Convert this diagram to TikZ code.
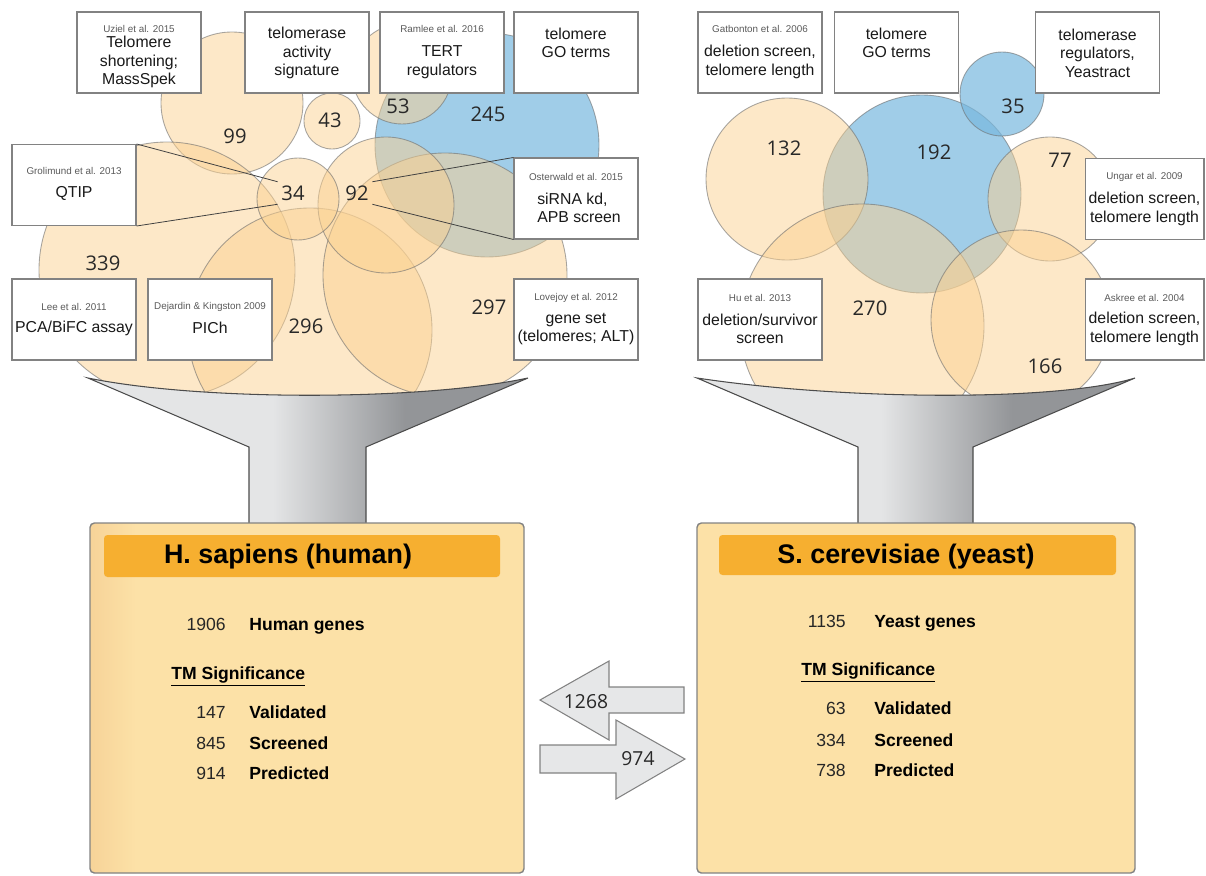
\documentclass[tikz,border=0pt]{standalone}
\usepackage{fontspec}
\setmainfont{Liberation Sans}
\newfontfamily\countfont{Open Sans}
\usetikzlibrary{positioning}
\definecolor{tanfill}{RGB}{251,209,145}
\definecolor{bluefill}{RGB}{120,184,222}
\definecolor{ringgray}{RGB}{110,110,110}
\definecolor{frameline}{RGB}{130,130,130}
\definecolor{citegray}{RGB}{90,90,90}
\definecolor{numgray}{RGB}{40,40,40}
\definecolor{funlight}{RGB}{228,229,230}
\definecolor{fundark}{RGB}{147,149,152}
\definecolor{panelfill}{RGB}{252,225,167}
\definecolor{panelstrip}{RGB}{247,211,152}
\definecolor{headfill}{RGB}{246,175,48}
\definecolor{arrowfill}{RGB}{230,231,232}
\pgfdeclarehorizontalshading{funnelshade}{100bp}{color(0bp)=(funlight); color(46bp)=(funlight); color(61bp)=(fundark); color(100bp)=(fundark)}
\tikzset{
  tanset/.style={fill=tanfill, fill opacity=0.5, draw=ringgray, draw opacity=0.6, line width=0.5pt},
  blueset/.style={fill=bluefill, fill opacity=0.7, draw=ringgray, draw opacity=0.6, line width=0.5pt},
  refbox/.style={draw=frameline, fill=white, line width=0.6pt, minimum width=2.48cm, minimum height=1.62cm, inner sep=0pt},
  cite/.style={font=\fontsize{5.6}{6}\selectfont, text=citegray, inner sep=0pt},
  boxtext/.style={font=\fontsize{9}{10.6}\selectfont, align=center, inner sep=0pt, text=black!90},
  setsize/.style={font=\countfont\fontsize{11.5}{12}\selectfont, text=numgray, inner sep=2pt},
  leader/.style={draw=black!75, line width=0.45pt},
  funnel/.style={shade, shading=funnelshade, draw=black!70, line width=0.6pt},
  panel/.style={draw=frameline, line width=0.8pt, rounded corners=2.5pt},
  header/.style={fill=headfill, rounded corners=2pt},
  paneltitle/.style={font=\fontsize{15.3}{17}\selectfont\bfseries, anchor=base, inner sep=0pt},
  stat/.style={font=\fontsize{10}{12}\selectfont, anchor=base east, text=black!85, inner sep=0pt},
  statname/.style={font=\fontsize{10}{12}\selectfont\bfseries, anchor=base west, inner sep=0pt},
  blockarrow/.style={fill=arrowfill, draw=frameline, line width=0.6pt},
  flow/.style={font=\countfont\fontsize{11}{12}\selectfont, text=numgray},
}

\begin{document}
\begin{tikzpicture}[x=0.02cm, y=-0.02cm]
\useasboundingbox (0,0) rectangle (1206,875);

% human gene sets
\begin{scope}
  \clip (0,0) -- (640,0) -- (640,378) -- (528,378) .. controls (420,401) and (200,401) .. (88,378) -- (0,378) -- cycle;
  \draw[blueset] (487,145) circle (112);
  \draw[tanset] (232,103) circle (71);
  \draw[tanset] (332,121) circle (28);
  \draw[tanset] (402,74) circle (50);
  \draw[tanset] (167,270) circle (128);
  \draw[tanset] (310,330) circle (122);
  \draw[tanset] (445,275) circle (122);
  \draw[tanset] (386,205) circle (68);
  \draw[tanset] (298,199) circle (41);
\end{scope}

% yeast gene sets
\begin{scope}
  \clip (660,0) -- (1206,0) -- (1206,378) -- (1135,378) .. controls (1060,401) and (850,401) .. (697,378) -- (660,378) -- cycle;
  \draw[blueset] (922,194) circle (99);
  \draw[blueset] (1002,94) circle (42);
  \draw[tanset] (787,179) circle (81);
  \draw[tanset] (1050,199) circle (62);
  \draw[tanset] (862,326) circle (122);
  \draw[tanset] (1021,320) circle (90);
\end{scope}

% funnels
\draw[funnel] (88,378) .. controls (200,401) and (420,401) .. (528,378) -- (366,447) -- (366,524) -- (249,524) -- (249,447) -- cycle;
\draw[funnel] (697,378) .. controls (850,401) and (1060,401) .. (1135,378) -- (973,447) -- (973,524) -- (858,524) -- (858,447) -- cycle;

% panels
\fill[panelfill, rounded corners=2.5pt] (90,523) rectangle (524,873);
\begin{scope}
  \clip[rounded corners=2.5pt] (90,523) rectangle (524,873);
  \shade[left color=panelstrip, right color=panelfill] (90,523) rectangle (136,873);
\end{scope}
\draw[panel] (90,523) rectangle (524,873);
\filldraw[panel, fill=panelfill] (697,523) rectangle (1135,873);
\fill[header] (104,535) rectangle (500,577);
\fill[header] (719,535) rectangle (1116,575);

% reference boxes, human
\node[refbox] (uz) at (139,52.5) {};
\node[cite] (uzA) at (139,29) {Uziel et al. 2015};
\node[boxtext] (uzT) at (139,62) {Telomere\\shortening;\\MassSpek};
\node[refbox] (tas) at (307,52.5) {};
\node[boxtext] (tasT) at (307,53) {telomerase\\activity\\signature};
\node[refbox] (ram) at (442,52.5) {};
\node[cite] (ramA) at (442,29) {Ramlee et al. 2016};
\node[boxtext] (ramT) at (442,62) {TERT\\regulators};
\node[refbox] (lgo) at (576,52.5) {};
\node[boxtext] (lgoT) at (576,43) {telomere\\GO terms};
\node[refbox] (gro) at (74,185) {};
\node[cite] (groA) at (74,171) {Grolimund et al. 2013};
\node[boxtext] (groT) at (74,193) {QTIP};
\node[refbox] (ost) at (576,198.5) {};
\node[cite] (ostA) at (576,177) {Osterwald et al. 2015};
\node[boxtext, align=left] (ostT) at (579,208) {siRNA kd,\\APB screen};
\node[refbox] (lee) at (74,319.5) {};
\node[cite] (leeA) at (74,307) {Lee et al. 2011};
\node[boxtext] (leeT) at (74,328) {PCA/BiFC assay};
\node[refbox] (dej) at (210,319.5) {};
\node[cite] (dejA) at (210,307) {Dejardin \& Kingston 2009};
\node[boxtext] (dejT) at (210,328) {PICh};
\node[refbox] (lov) at (576,319.5) {};
\node[cite] (lovA) at (576,298) {Lovejoy et al. 2012};
\node[boxtext] (lovT) at (576,329) {gene set\\(telomeres; ALT)};

% reference boxes, yeast
\node[refbox] (gat) at (760,52.5) {};
\node[cite] (gatA) at (760,29) {Gatbonton et al. 2006};
\node[boxtext] (gatT) at (760,62) {deletion screen,\\telomere length};
\node[refbox] (ygo) at (896.5,52.5) {};
\node[boxtext] (ygoT) at (896.5,43) {telomere\\GO terms};
\node[refbox] (yea) at (1097.5,52.5) {};
\node[boxtext] (yeaT) at (1097.5,53) {telomerase\\regulators,\\Yeastract};
\node[refbox, minimum width=2.38cm] (ung) at (1144.5,199) {};
\node[cite] (ungA) at (1144.5,177) {Ungar et al. 2009};
\node[boxtext] (ungT) at (1144.5,209) {deletion screen,\\telomere length};
\node[refbox] (hu) at (760,319.5) {};
\node[cite] (huA) at (760,298) {Hu et al. 2013};
\node[boxtext] (huT) at (760,329) {deletion/survivor\\screen};
\node[refbox, minimum width=2.38cm] (ask) at (1144.5,319.5) {};
\node[cite] (askA) at (1144.5,298) {Askree et al. 2004};
\node[boxtext] (askT) at (1144.5,329) {deletion screen,\\telomere length};

% set sizes
\node[setsize] (n99) at (235,136) {99};
\node[setsize] (n43) at (330,120) {43};
\node[setsize] (n53) at (398,106) {53};
\node[setsize] (n245) at (488,114) {245};
\node[setsize] (n34) at (293,193) {34};
\node[setsize] (n92) at (357,193) {92};
\node[setsize] (n339) at (103,263) {339};
\node[setsize] (n296) at (306,326) {296};
\node[setsize] (n297) at (489,307) {297};
\node[setsize] (n132) at (784,148) {132};
\node[setsize] (n192) at (934,152) {192};
\node[setsize] (n35) at (1013,106) {35};
\node[setsize] (n77) at (1060,160) {77};
\node[setsize] (n270) at (870,308) {270};
\node[setsize] (n166) at (1045,366) {166};

\draw[leader] (gro.north east) -- (n34.north west);
\draw[leader] (gro.south east) -- (n34.south west);
\draw[leader] (ost.north west) -- (n92.north east);
\draw[leader] (ost.south west) -- (n92.south east);

% human summary
\node[paneltitle] (hsT) at (288,563) {H. sapiens (human)};
\node[stat] (hsN) at (226,630) {1906};
\node[statname] (hsL) at (249,630) {Human genes};
\node[statname] (hsTM) at (171,679) {\underline{TM Significance}};
\node[stat] (hsV) at (226,718) {147};
\node[statname] (hsVL) at (249,718) {Validated};
\node[stat] (hsS) at (226,749) {845};
\node[statname] (hsSL) at (249,749) {Screened};
\node[stat] (hsP) at (226,779) {914};
\node[statname] (hsPL) at (249,779) {Predicted};

% yeast summary
\node[paneltitle] (scT) at (906,563) {S. cerevisiae (yeast)};
\node[stat] (scN) at (846,627) {1135};
\node[statname] (scL) at (874,627) {Yeast genes};
\node[statname] (scTM) at (801,675) {\underline{TM Significance}};
\node[stat] (scV) at (846,714) {63};
\node[statname] (scVL) at (874,714) {Validated};
\node[stat] (scS) at (846,746) {334};
\node[statname] (scSL) at (874,746) {Screened};
\node[stat] (scP) at (846,776) {738};
\node[statname] (scPL) at (874,776) {Predicted};

% orthology arrows
\draw[blockarrow] (540,700) -- (609,661) -- (609,687) -- (684,687) -- (684,713) -- (609,713) -- (609,740) -- cycle;
\node[flow] (tohuman) at (586,702) {1268};
\draw[blockarrow] (540,745) -- (616,745) -- (616,720) -- (685,759) -- (616,799) -- (616,773) -- (540,773) -- cycle;
\node[flow] (toyeast) at (638,759) {974};
\end{tikzpicture}
\end{document}
